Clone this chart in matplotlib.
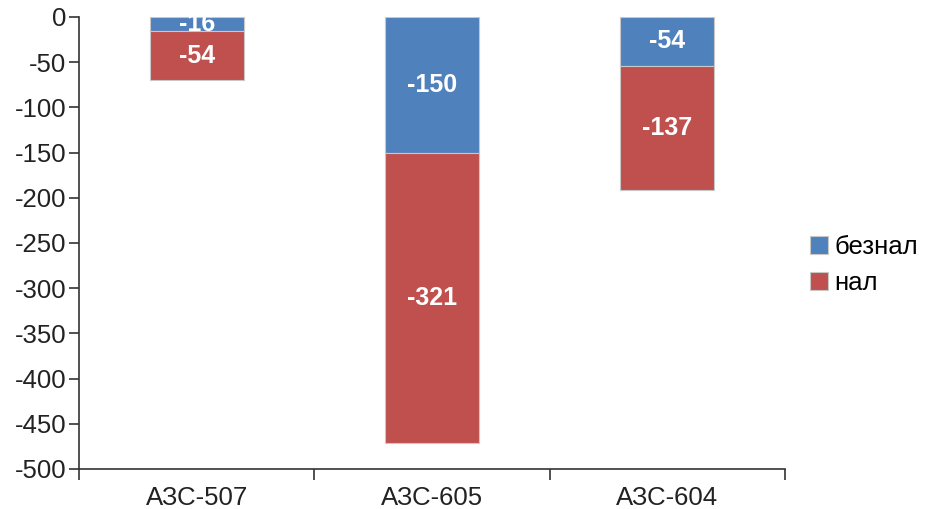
import matplotlib
matplotlib.use("Agg")
import matplotlib.pyplot as plt
import numpy as np

plt.rcParams['font.family'] = ['Liberation Sans', 'DejaVu Sans']

categories = ["АЗС-507", "АЗС-605", "АЗС-604"]
beznal = [-16, -150, -54]
nal = [-54, -321, -137]
series_names = ["безнал", "нал"]
yticks = list(range(0, -501, -50))

fig = plt.figure(figsize=(9.27, 5.09), dpi=100)
ax = fig.add_axes([79/927, 40/509, (785-79)/927, (469-17)/509])

x = np.arange(len(categories))
w = 0.4
c_blue = "#4F81BD"
c_red = "#C0504D"
b1 = ax.bar(x, beznal, w, color=c_blue, edgecolor="#c8c8c8", linewidth=0.8, label=series_names[0])
b2 = ax.bar(x, nal, w, bottom=beznal, color=c_red, edgecolor="#c8c8c8", linewidth=0.8, label=series_names[1])

for rects, vals, bots in [(b1, beznal, [0]*3), (b2, nal, beznal)]:
    for r, v, b in zip(rects, vals, bots):
        ax.text(r.get_x() + r.get_width()/2, b + v/2, str(v), ha='center', va='center',
                color='white', fontweight='bold', fontsize=18)

ax.set_xlim(-0.5, len(categories) - 0.5)
ax.set_ylim(-500, 0)
ax.set_yticks(yticks)
ax.set_yticklabels([str(t) for t in yticks], fontsize=18.5, color="#222222")
ax.set_xticks(x)
ax.set_xticklabels(categories, fontsize=18.5, color="#222222")
ax.set_xticks(np.arange(-0.5, len(categories)), minor=True)
ax.tick_params(axis='x', which='major', length=0, pad=12)
ax.tick_params(axis='x', which='minor', length=8, width=1.2, color="#333333", direction='out')
ax.tick_params(axis='y', length=7, width=1.2, color="#333333", direction='out', pad=2)

for s in ['top', 'right']:
    ax.spines[s].set_visible(False)
for s in ['left', 'bottom']:
    ax.spines[s].set_linewidth(1.2)
    ax.spines[s].set_color("#333333")

fig.legend(loc='center left', bbox_to_anchor=(810/927, 1 - 265/509), frameon=False, fontsize=18.5,
           handlelength=0.7, handleheight=0.7, handletextpad=0.25, labelspacing=0.45,
           borderaxespad=0.0, borderpad=0.0)

fig.savefig("out.png", dpi=100)
